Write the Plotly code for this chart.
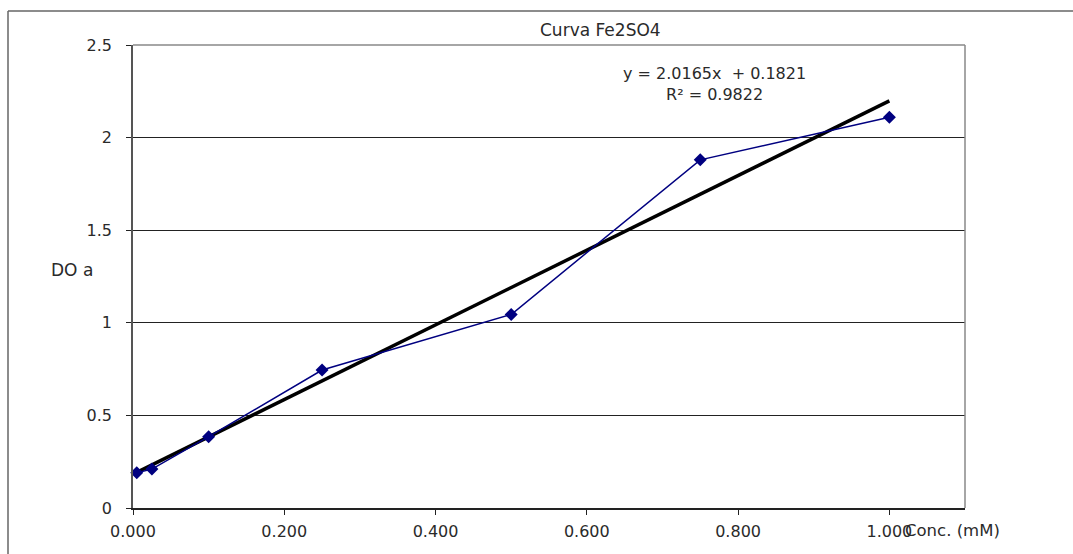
import plotly.graph_objects as go

conc = [0.005, 0.025, 0.1, 0.25, 0.5, 0.75, 1.0]
do_a = [0.19, 0.21, 0.385, 0.745, 1.045, 1.88, 2.11]
slope = 2.0165
intercept = 0.1821
r2 = 0.9822
x_ticks = [0.0, 0.2, 0.4, 0.6, 0.8, 1.0]
y_ticks = [0, 0.5, 1, 1.5, 2, 2.5]

trend_x = [min(conc), max(conc)]
trend_y = [slope * v + intercept for v in trend_x]

W, H = 1073, 554
L, R, T, B = 133, 965, 45, 508

fig = go.Figure()
fig.add_trace(go.Scatter(x=trend_x, y=trend_y, mode="lines",
                         line=dict(color="black", width=3.5), showlegend=False,
                         cliponaxis=False))
fig.add_trace(go.Scatter(x=conc, y=do_a, mode="lines+markers",
                         line=dict(color="#000080", width=1.5),
                         marker=dict(symbol="diamond", size=10, color="#000080"),
                         showlegend=False, cliponaxis=False))

font = "DejaVu Sans, Liberation Sans, Arial, sans-serif"
tc = "#2a2a2a"

def px(xp):
    return (xp - L) / (R - L)

def py(yp):
    return (B - yp) / (B - T)

fig.update_layout(
    width=W, height=H,
    margin=dict(l=L, r=W - R, t=T, b=H - B, pad=0),
    paper_bgcolor="white", plot_bgcolor="white",
    font=dict(family=font, size=16, color=tc),
    xaxis=dict(range=[0, 1.1], tickvals=x_ticks, tickformat=".3f",
               showgrid=False, zeroline=False, showline=True,
               linecolor="#222", linewidth=1.5, ticks="outside", ticklen=5,
               tickcolor="#222", mirror=False, fixedrange=True,
               ticklabelstandoff=3, tickfont=dict(size=16, family=font, color=tc)),
    yaxis=dict(range=[0, 2.5], tickvals=y_ticks, showgrid=True,
               gridcolor="#222", gridwidth=1, zeroline=False, showline=True,
               linecolor="#555", linewidth=1.5, ticks="outside", ticklen=5,
               tickcolor="#222", fixedrange=True, ticklabelstandoff=11,
               tickfont=dict(size=16, family=font, color=tc)),
    shapes=[
        dict(type="line", xref="paper", yref="paper", x0=0, x1=1, y0=1, y1=1,
             line=dict(color="#888", width=1.5)),
        dict(type="line", xref="paper", yref="paper", x0=1, x1=1, y0=0, y1=1,
             line=dict(color="#888", width=1.5)),
        dict(type="line", xref="paper", yref="paper", x0=px(8), x1=px(1075),
             y0=py(11), y1=py(11), line=dict(color="#666", width=1.5)),
        dict(type="line", xref="paper", yref="paper", x0=px(8), x1=px(8),
             y0=py(11), y1=py(560), line=dict(color="#666", width=1.5)),
    ],
    annotations=[
        dict(text="Curva Fe2SO4", xref="paper", yref="paper", x=px(600), y=py(30),
             xanchor="center", yanchor="middle",
             showarrow=False, font=dict(size=17, family=font, color=tc)),
        dict(text="DO a", xref="paper", yref="paper", x=px(72), y=py(270),
             xanchor="center", yanchor="middle",
             showarrow=False, font=dict(size=17, family=font, color=tc)),
        dict(text="Conc. (mM)", xref="paper", yref="paper", x=px(952), y=py(530),
             xanchor="center", yanchor="middle",
             showarrow=False, font=dict(size=16.5, family=font, color=tc)),
        dict(text=f"y = {slope}x  + {intercept}<br>R² = {r2}", xref="paper",
             yref="paper", x=px(714), y=py(84), showarrow=False, align="center",
             xanchor="center", yanchor="middle",
             font=dict(size=16, family=font, color=tc)),
    ],
)

fig.write_html("out.html")
